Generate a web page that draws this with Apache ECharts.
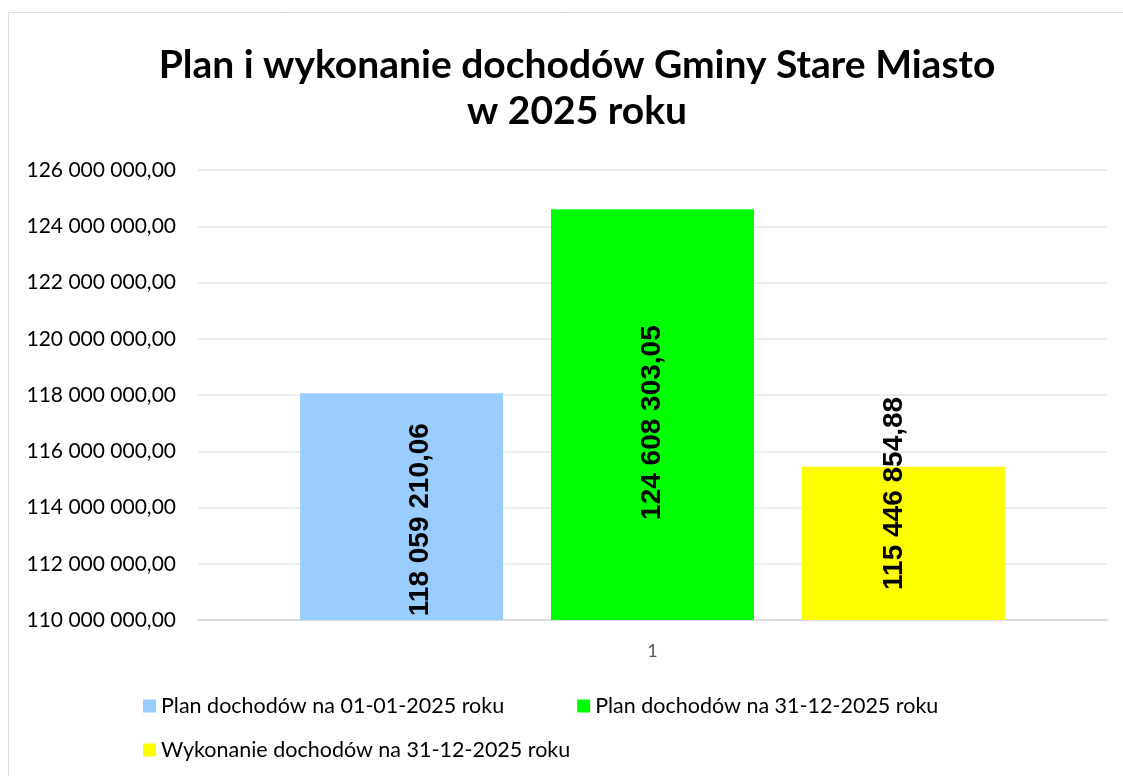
<!DOCTYPE html>
<html>
<head>
<meta charset="utf-8">
<script src="https://cdn.jsdelivr.net/npm/echarts@6/dist/echarts.min.js"></script>
<style>
  html, body { margin: 0; padding: 0; background: #fff; }
  #main { width: 1123px; height: 776px; }
</style>
</head>
<body>
<div id="main"></div>
<script>
var categories = ['1'];
var seriesNames = [
    'Plan dochodów na 01-01-2025 roku',
    'Plan dochodów na 31-12-2025 roku',
    'Wykonanie dochodów na 31-12-2025 roku'
];
var seriesValues = [118059210.06, 124608303.05, 115446854.88];
var seriesColors = ['#99ccff', '#00ff00', '#ffff00'];
var yMin = 110000000, yMax = 126000000, yStep = 2000000;

function fmt(v) {
    var parts = v.toFixed(2).split('.');
    return parts[0].replace(/\B(?=(\d{3})+(?!\d))/g, ' ') + ',' + parts[1];
}

var myChart = echarts.init(document.getElementById('main'));

// label offsets in the rotated frame: [along text (up), across (right)]
var labelShift = [[-13, 19], [-8, 0], [50, -9]];

var series = seriesNames.map(function (name, i) {
    return {
        name: name,
        type: 'bar',
        barWidth: 203,
        barGap: '23.6%',
        itemStyle: { color: seriesColors[i] },
        label: {
            show: true,
            position: 'inside',
            rotate: 90,
            offset: labelShift[i],
            formatter: function (p) { return fmt(p.value); },
            fontFamily: 'Liberation Sans',
            fontWeight: 'bold',
            fontSize: 28,
            color: '#000'
        },
        data: [seriesValues[i]]
    };
});

var option = {
    animation: false,
    title: {
        text: 'Plan i wykonanie dochodów Gminy Stare Miasto\nw 2025 roku',
        left: 572,
        top: 37,
        textAlign: 'center',
        textStyle: {
            fontFamily: 'Lato',
            fontWeight: 'bold',
            fontSize: 39,
            lineHeight: 46,
            color: '#000'
        }
    },
    graphic: [{
        type: 'rect',
        shape: { x: 8.5, y: 12.5, width: 1130, height: 800 },
        style: { fill: 'none', stroke: '#d9dde3', lineWidth: 1 },
        silent: true
    }],
    legend: [{
        data: seriesNames.slice(0, 2),
        left: 138,
        top: 690,
        itemWidth: 13,
        itemHeight: 13,
        itemGap: 73,
        icon: 'rect',
        textStyle: { fontFamily: 'Lato', fontSize: 21.5, color: '#000' }
    }, {
        data: seriesNames.slice(2),
        left: 138,
        top: 734,
        itemWidth: 13,
        itemHeight: 13,
        icon: 'rect',
        textStyle: { fontFamily: 'Lato', fontSize: 21.5, color: '#000' }
    }],
    grid: { left: 198, right: 16, top: 170, bottom: 156, containLabel: false },
    xAxis: {
        type: 'category',
        data: categories,
        axisLine: { lineStyle: { color: '#d9dde3', width: 2 } },
        axisTick: { show: false },
        axisLabel: { margin: 22, fontFamily: 'Lato', fontSize: 18, color: '#595959' }
    },
    yAxis: {
        type: 'value',
        min: yMin,
        max: yMax,
        interval: yStep,
        axisLine: { show: false },
        axisTick: { show: false },
        splitLine: { lineStyle: { color: '#e3e6eb', width: 1.5 } },
        axisLabel: {
            margin: 22,
            fontFamily: 'Lato',
            fontSize: 21,
            color: '#000',
            formatter: function (v) { return fmt(v); }
        }
    },
    series: series
};
myChart.setOption(option);
</script>
</body>
</html>
